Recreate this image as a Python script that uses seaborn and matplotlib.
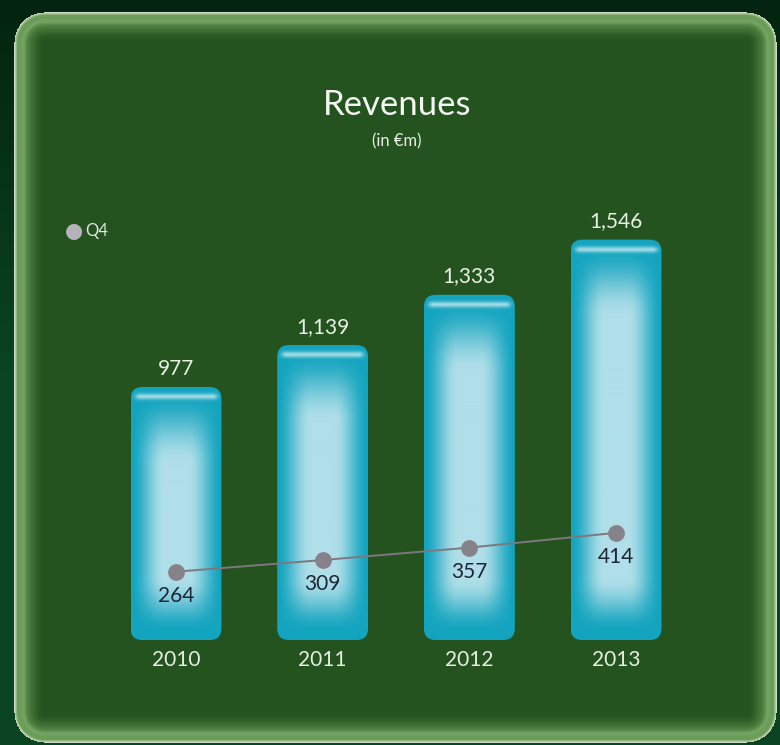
import numpy as np
import pandas as pd
import matplotlib
matplotlib.use("Agg")
import matplotlib.pyplot as plt
from matplotlib.patches import FancyBboxPatch
from matplotlib.colors import to_rgb
import seaborn as sns

# Revenue figures (in EUR m)
years = ["2010", "2011", "2012", "2013"]
revenues = [977, 1139, 1333, 1546]
q4_revenues = [264, 309, 357, 414]
revenue_labels = ["977", "1,139", "1,333", "1,546"]
q4_labels = ["264", "309", "357", "414"]

df = pd.DataFrame({"year": years, "revenue": revenues, "q4": q4_revenues})

sns.set_theme(style="white")
plt.rcParams["font.family"] = ["Lato", "DejaVu Sans"]

W, H = 780, 745
fig = plt.figure(figsize=(W / 100, H / 100), dpi=100)


def smooth(t):
    t = np.clip(t, 0, 1)
    return t * t * (3 - 2 * t)


# ---- glass panel backdrop -------------------------------------------------
yy, xx = np.mgrid[0:H, 0:W].astype(float)
x0, x1, y0, y1, r = 14.0, 776.0, 12.0, 742.0, 30.0
cx = np.clip(xx, x0 + r, x1 - r)
cy = np.clip(yy, y0 + r, y1 - r)
dist_out = np.hypot(xx - cx, yy - cy) - r
inside_d = np.minimum.reduce([xx - x0, x1 - xx, yy - y0, y1 - yy])
corner = (np.abs(xx - cx) > 0) & (np.abs(yy - cy) > 0)
d = np.where(corner, -dist_out, inside_d)  # positive inside the panel

outer = np.array(to_rgb("#0a4420"))
outer_dark = np.array(to_rgb("#032410"))
panel = np.array(to_rgb("#24531f"))
rim = np.array(to_rgb("#cfd9cb"))
glass = np.array(to_rgb("#6ea25a"))

t_out = np.clip(yy / (H * 0.5), 0, 1)[..., None]
img = outer_dark * (1 - t_out) + outer * t_out

band = 30.0
t = smooth(d / band)[..., None]
glass_col = glass * (1 - t) + panel * t
# a second faint reflection inside the rim
refl = np.exp(-((d - 9) / 2.5) ** 2)[..., None] * 0.35
glass_col = glass_col * (1 - refl) + np.array(to_rgb("#9cc48a")) * refl
rim_mix = np.clip(1 - d / 3.0, 0, 1)[..., None]
glass_col = glass_col * (1 - rim_mix) + rim * rim_mix
inside = (d >= 0)[..., None]
img = np.where(inside, glass_col, img)
img = np.clip(img, 0, 1)

ax_bg = fig.add_axes([0, 0, 1, 1])
ax_bg.imshow(img, extent=(0, W, H, 0), aspect="auto", interpolation="bilinear")
ax_bg.set_xlim(0, W)
ax_bg.set_ylim(H, 0)
ax_bg.axis("off")

# ---- chart ------------------------------------------------------------------
ax = fig.add_axes([0, 0, 1, 1])
ax.patch.set_alpha(0)

sns.barplot(data=df, x="year", y="revenue", width=0.62, color="#1aa8c2",
            ax=ax, zorder=2)
sns.pointplot(data=df, x="year", y="q4", color="#858088", markersize=11,
              linewidth=1.4, ax=ax, zorder=5)
for line in ax.lines:
    line.set_color("#7d787f")
    line.set_markerfacecolor("#878189")
    line.set_markeredgecolor("#878189")

ax.set_xlim(-1.2, 4.118)
ax.set_ylim(-405, 2471)
ax.axis("off")

edge_c = np.array(to_rgb("#13a4bf"))
core_c = np.array(to_rgb("#b0dfe9"))
hi_c = np.array(to_rgb("#d8f1f5"))

for p in list(ax.patches):
    bx, by = p.get_x(), p.get_y()
    bw, bh = p.get_width(), p.get_height()
    p.set_visible(False)
    rx = 12 / 146.67
    aspect = (12 / 0.259) / rx
    box = FancyBboxPatch((bx, by), bw, bh,
                         boxstyle=f"round,pad=0,rounding_size={rx}",
                         mutation_aspect=aspect, linewidth=0,
                         facecolor="none", zorder=2)
    ax.add_patch(box)
    # gradient fill: pale glowing core, saturated cyan rim
    nh = max(int(bh * 0.259), 2)
    nw = 91
    u = np.linspace(-1, 1, nw)[None, :]
    from_bottom = np.linspace(nh, 0, nh)[:, None]
    from_top = nh - from_bottom
    fx = smooth((1 - np.abs(u)) / 0.75)
    gy_bot = smooth((from_bottom - 8) / 55)
    gy_top = smooth((from_top - 8) / 70)
    core = (fx * gy_bot * gy_top) ** 0.9
    grad = edge_c * (1 - core[..., None]) + core_c * core[..., None]
    # glossy highlight stripe near the top
    stripe = np.exp(-((from_top - 10) / 3.0) ** 2) * smooth((1 - np.abs(u)) / 0.2)
    grad = grad * (1 - 0.7 * stripe[..., None]) + hi_c * 0.7 * stripe[..., None]
    im = ax.imshow(grad, extent=(bx, bx + bw, by, by + bh), aspect="auto",
                   interpolation="bilinear", zorder=2)
    im.set_clip_path(box)

# value labels
for i, (val, lab) in enumerate(zip(revenues, revenue_labels)):
    ax.annotate(lab, (i, val), xytext=(0, 6), textcoords="offset points",
                ha="center", va="bottom", fontsize=15, color="#e9f1e4")
for i, (val, lab) in enumerate(zip(q4_revenues, q4_labels)):
    ax.annotate(lab, (i, val), xytext=(0, -10), textcoords="offset points",
                ha="center", va="top", fontsize=15, color="#1c2636", zorder=6)
for i, yr in enumerate(years):
    ax.annotate(yr, (i, 0), xytext=(0, -7), textcoords="offset points",
                ha="center", va="top", fontsize=15, color="#e6efe0")

# title
fig.text(397 / W, 1 - 105 / H, "Revenues", ha="center", va="center",
         fontsize=25, color="#f4f6f2")
fig.text(397 / W, 1 - 141 / H, "(in €m)", ha="center", va="center",
         fontsize=12, color="#e8eee5")

# legend
fig.text(74 / W, 1 - 231 / H, "●", ha="center", va="center",
         fontsize=15, color="#b4b3b9", family=["DejaVu Sans"])
fig.text(85 / W, 1 - 231 / H, "Q4", ha="left", va="center",
         fontsize=12, color="#e2e6e3")

fig.savefig("out.png", dpi=100)
